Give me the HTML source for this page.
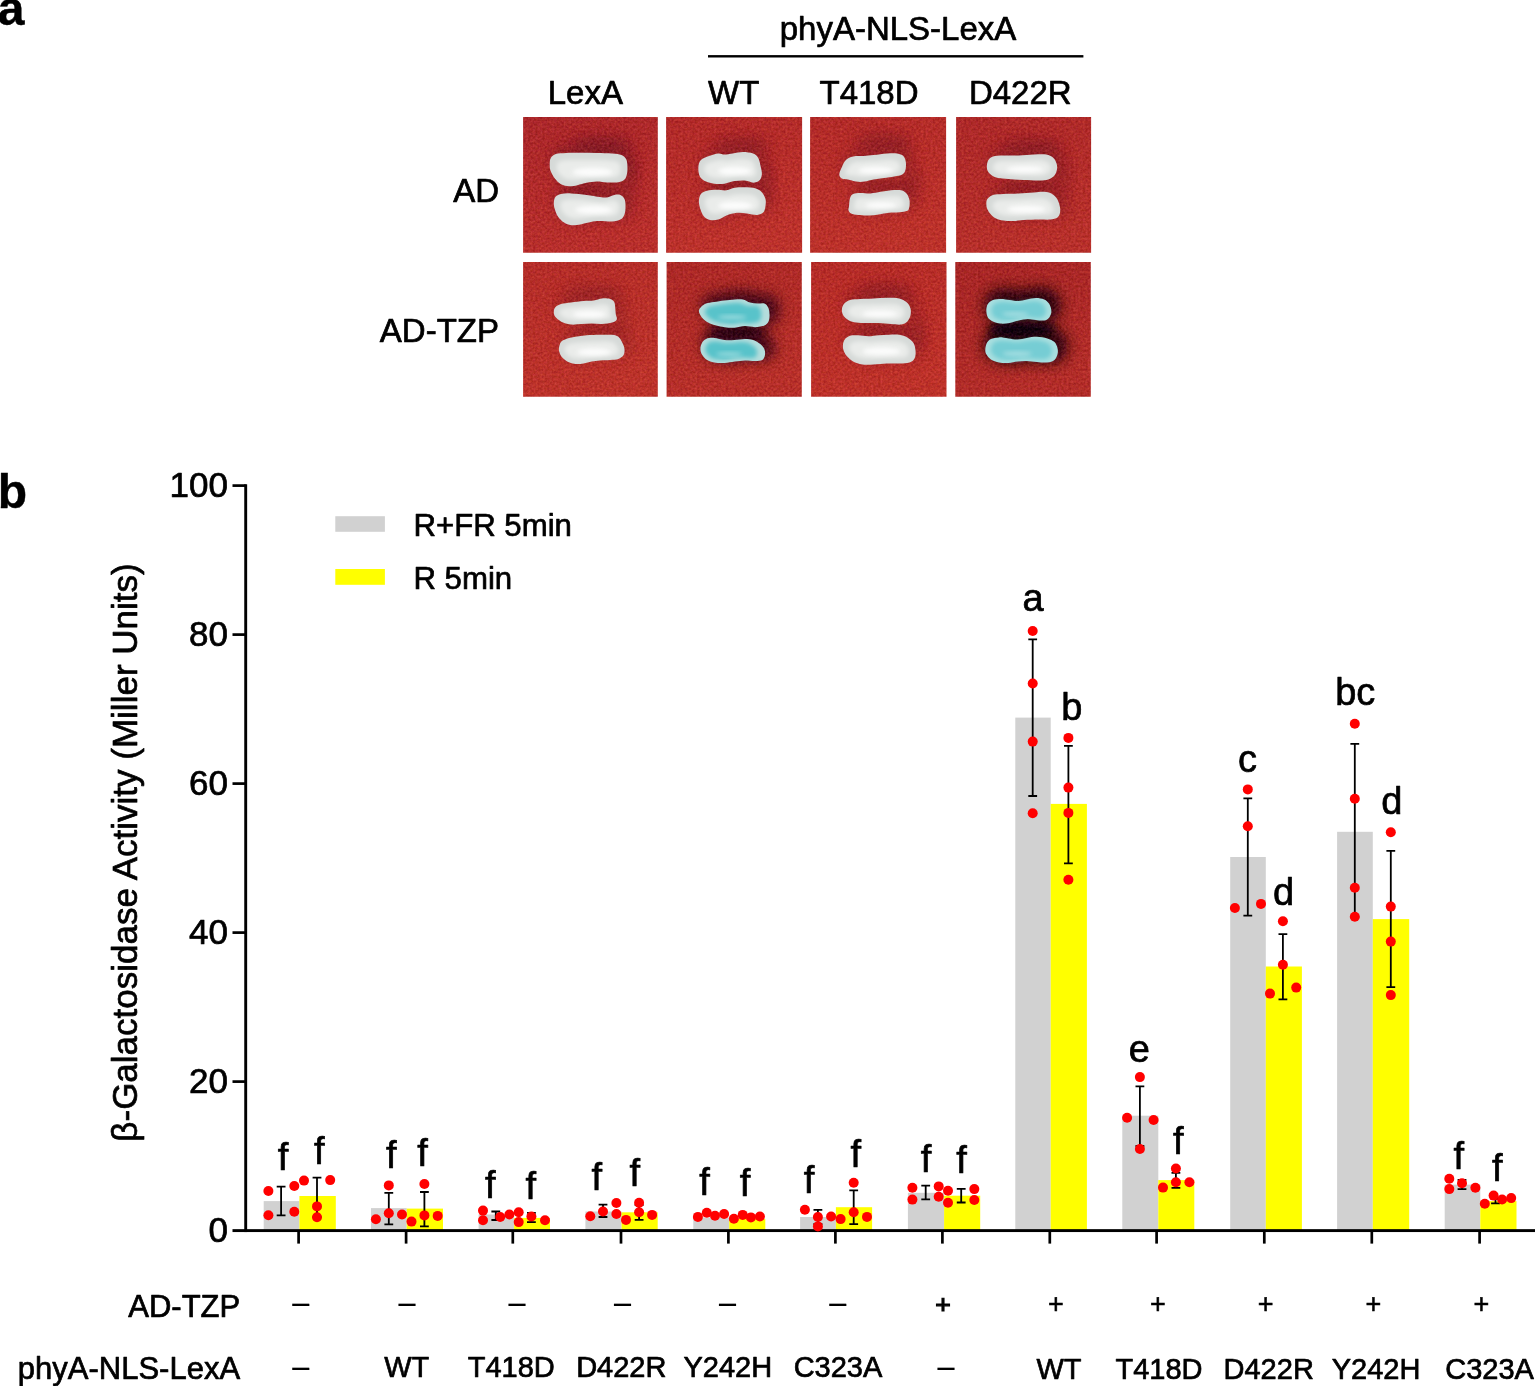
<!DOCTYPE html>
<html lang="en"><head><meta charset="utf-8"><title>Figure</title>
<style>html,body{margin:0;padding:0;background:#fff;}body{width:1535px;height:1386px;overflow:hidden;}svg{display:block;}text{font-family:'Liberation Sans', sans-serif;fill:#000;stroke:#000;stroke-width:0.7px;stroke-linejoin:round;}</style>
</head><body>
<svg width="1535" height="1386" viewBox="0 0 1535 1386">
<rect width="1535" height="1386" fill="#fff"/>
<defs>
<filter id="b1" x="-50%" y="-50%" width="200%" height="200%"><feGaussianBlur stdDeviation="0.75"/></filter>
<filter id="b2" x="-50%" y="-50%" width="200%" height="200%"><feGaussianBlur stdDeviation="2"/></filter>
<filter id="b4" x="-50%" y="-50%" width="200%" height="200%"><feGaussianBlur stdDeviation="4.5"/></filter>
<filter id="b8" x="-50%" y="-50%" width="200%" height="200%"><feGaussianBlur stdDeviation="7"/></filter>
</defs>
<text x="-2.3" y="25.2" font-size="48" font-weight="bold" style="stroke-width:0.4px">a</text>
<text x="898" y="40.1" font-size="33" text-anchor="middle">phyA-NLS-LexA</text>
<rect x="708" y="55.1" width="375.4" height="2.4" fill="#000"/>
<text x="585.3" y="103.6" font-size="33" text-anchor="middle">LexA</text>
<text x="733.7" y="103.6" font-size="33" text-anchor="middle">WT</text>
<text x="869" y="103.6" font-size="33" text-anchor="middle">T418D</text>
<text x="1020.3" y="103.6" font-size="33" text-anchor="middle">D422R</text>
<text x="499" y="201.5" font-size="33" text-anchor="end">AD</text>
<text x="499" y="342.3" font-size="33" text-anchor="end">AD-TZP</text>
<defs><filter id="nz" x="0" y="0" width="100%" height="100%" color-interpolation-filters="sRGB"><feTurbulence type="fractalNoise" baseFrequency="0.42" numOctaves="2" seed="11" result="n"/><feColorMatrix in="n" type="matrix" values="1 0 0 0 0  0.7 0.3 0 0 0  0.6 0 0.4 0 0  0 0 0 0 1" result="g"/><feComposite in="SourceGraphic" in2="g" operator="arithmetic" k1="0" k2="1" k3="0.24" k4="-0.125"/></filter></defs>
<defs><clipPath id="cp0"><rect x="523.1" y="117.1" width="134.7" height="135.7"/></clipPath>
<linearGradient id="tg0" x1="0" y1="0" x2="0.25" y2="1"><stop offset="0" stop-color="#ab282b"/><stop offset="1" stop-color="#b9302d"/></linearGradient></defs>
<g clip-path="url(#cp0)">
<g filter="url(#nz)">
<rect x="522.1" y="116.1" width="136.7" height="137.7" fill="url(#tg0)"/>
<g filter="url(#b8)" opacity="0.36" transform="translate(5,-5)">
<path d="M549.71,165.23C549.71,163.01 549.71,159.93 550.74,158.05C551.76,156.18 553.3,154.81 555.86,153.96C558.42,153.1 561.84,153.14 566.1,152.93C570.37,152.73 576.35,152.73 581.47,152.73C586.59,152.73 591.72,152.81 596.84,152.93C601.96,153.05 608.11,153.1 612.21,153.44C616.31,153.79 619.12,154.04 621.43,154.98C623.73,155.92 625.05,157.37 626.04,159.08C627.03,160.79 627.2,162.84 627.37,165.23C627.54,167.62 627.54,171.03 627.06,173.42C626.59,175.81 625.95,178.12 624.5,179.57C623.05,181.02 621.26,181.65 618.35,182.13C615.45,182.61 610.67,182.52 607.09,182.44C603.5,182.35 600.25,181.55 596.84,181.62C593.42,181.69 589.84,182.25 586.59,182.85C583.35,183.45 580.28,184.64 577.37,185.2C574.47,185.77 571.91,186.4 569.18,186.23C566.45,186.06 563.37,185.46 560.98,184.18C558.59,182.9 556.54,180.68 554.83,178.55C553.13,176.41 551.59,173.59 550.74,171.37C549.88,169.15 549.71,167.45 549.71,165.23Z" fill="#5e0c24" stroke="#5e0c24" stroke-width="6"/>
<path d="M553.81,203.13C553.89,201.09 554.15,198.52 555.35,196.99C556.54,195.45 558.33,194.51 560.98,193.91C563.63,193.32 566.96,193.23 571.23,193.4C575.5,193.57 581.81,194.34 586.59,194.94C591.38,195.54 596.5,196.56 599.91,196.99C603.33,197.41 604.69,197.84 607.09,197.5C609.48,197.16 612.04,195.36 614.26,194.94C616.48,194.51 618.7,194.25 620.4,194.94C622.11,195.62 623.65,197.16 624.5,199.04C625.36,200.91 625.53,203.65 625.53,206.21C625.53,208.77 625.36,212.18 624.5,214.4C623.65,216.62 622.45,218.33 620.4,219.53C618.35,220.72 616.14,221.32 612.21,221.58C608.28,221.83 601.96,220.64 596.84,221.06C591.72,221.49 585.74,223.45 581.47,224.14C577.2,224.82 574.13,225.42 571.23,225.16C568.32,224.91 566.27,224.05 564.05,222.6C561.84,221.15 559.44,218.67 557.91,216.45C556.37,214.23 555.52,211.5 554.83,209.28C554.15,207.06 553.72,205.18 553.81,203.13Z" fill="#5e0c24" stroke="#5e0c24" stroke-width="6"/>
</g>
<ellipse cx="591.72" cy="189.3" rx="26.64" ry="4.1" fill="#7a1420" opacity="0.5" filter="url(#b4)"/>
<ellipse cx="601.96" cy="144.74" rx="30.74" ry="9.22" fill="#5e0c24" opacity="0.4" filter="url(#b8)"/>
<ellipse cx="631.16" cy="175.47" rx="6.15" ry="17.42" fill="#5e0c24" opacity="0.3" filter="url(#b8)"/>
</g>
<path d="M549.71,165.23C549.71,163.01 549.71,159.93 550.74,158.05C551.76,156.18 553.3,154.81 555.86,153.96C558.42,153.1 561.84,153.14 566.1,152.93C570.37,152.73 576.35,152.73 581.47,152.73C586.59,152.73 591.72,152.81 596.84,152.93C601.96,153.05 608.11,153.1 612.21,153.44C616.31,153.79 619.12,154.04 621.43,154.98C623.73,155.92 625.05,157.37 626.04,159.08C627.03,160.79 627.2,162.84 627.37,165.23C627.54,167.62 627.54,171.03 627.06,173.42C626.59,175.81 625.95,178.12 624.5,179.57C623.05,181.02 621.26,181.65 618.35,182.13C615.45,182.61 610.67,182.52 607.09,182.44C603.5,182.35 600.25,181.55 596.84,181.62C593.42,181.69 589.84,182.25 586.59,182.85C583.35,183.45 580.28,184.64 577.37,185.2C574.47,185.77 571.91,186.4 569.18,186.23C566.45,186.06 563.37,185.46 560.98,184.18C558.59,182.9 556.54,180.68 554.83,178.55C553.13,176.41 551.59,173.59 550.74,171.37C549.88,169.15 549.71,167.45 549.71,165.23Z" fill="#d6dad8" filter="url(#b1)"/>
<path d="M556.72,167.47C556.72,166.14 556.72,164.3 557.56,163.17C558.4,162.04 559.66,161.22 561.76,160.71C563.86,160.2 566.66,160.22 570.16,160.1C573.66,159.97 578.56,159.97 582.76,159.97C586.96,159.97 591.16,160.02 595.36,160.1C599.56,160.17 604.6,160.2 607.96,160.4C611.32,160.61 613.64,160.76 615.53,161.32C617.42,161.89 618.49,162.76 619.31,163.78C620.12,164.81 620.26,166.04 620.4,167.47C620.54,168.91 620.54,170.96 620.15,172.39C619.75,173.82 619.24,175.21 618.05,176.08C616.86,176.95 615.39,177.33 613.01,177.61C610.62,177.9 606.7,177.85 603.76,177.8C600.82,177.75 598.16,177.27 595.36,177.31C592.56,177.35 589.62,177.69 586.96,178.04C584.3,178.4 581.78,179.12 579.4,179.46C577.02,179.8 574.92,180.18 572.68,180.07C570.44,179.97 567.92,179.61 565.96,178.84C564,178.08 562.32,176.74 560.92,175.46C559.52,174.18 558.26,172.49 557.56,171.16C556.86,169.83 556.72,168.8 556.72,167.47Z" fill="#eaecea" filter="url(#b2)"/>
<ellipse cx="592.52" cy="172.02" rx="20.19" ry="4.36" fill="#ffffff" opacity="0.85" filter="url(#b2)"/>
<path d="M553.81,203.13C553.89,201.09 554.15,198.52 555.35,196.99C556.54,195.45 558.33,194.51 560.98,193.91C563.63,193.32 566.96,193.23 571.23,193.4C575.5,193.57 581.81,194.34 586.59,194.94C591.38,195.54 596.5,196.56 599.91,196.99C603.33,197.41 604.69,197.84 607.09,197.5C609.48,197.16 612.04,195.36 614.26,194.94C616.48,194.51 618.7,194.25 620.4,194.94C622.11,195.62 623.65,197.16 624.5,199.04C625.36,200.91 625.53,203.65 625.53,206.21C625.53,208.77 625.36,212.18 624.5,214.4C623.65,216.62 622.45,218.33 620.4,219.53C618.35,220.72 616.14,221.32 612.21,221.58C608.28,221.83 601.96,220.64 596.84,221.06C591.72,221.49 585.74,223.45 581.47,224.14C577.2,224.82 574.13,225.42 571.23,225.16C568.32,224.91 566.27,224.05 564.05,222.6C561.84,221.15 559.44,218.67 557.91,216.45C556.37,214.23 555.52,211.5 554.83,209.28C554.15,207.06 553.72,205.18 553.81,203.13Z" fill="#d6dad8" filter="url(#b1)"/>
<path d="M560.35,205.4C560.42,204.17 560.63,202.64 561.61,201.72C562.59,200.79 564.06,200.23 566.23,199.87C568.4,199.51 571.13,199.46 574.63,199.56C578.13,199.67 583.31,200.13 587.24,200.49C591.16,200.85 595.36,201.46 598.16,201.72C600.96,201.97 602.08,202.23 604.04,202.02C606,201.82 608.1,200.74 609.92,200.49C611.74,200.23 613.56,200.08 614.96,200.49C616.36,200.9 617.62,201.82 618.32,202.95C619.02,204.07 619.16,205.71 619.16,207.25C619.16,208.79 619.02,210.83 618.32,212.17C617.62,213.5 616.64,214.52 614.96,215.24C613.28,215.96 611.46,216.32 608.24,216.47C605.02,216.62 599.84,215.91 595.64,216.16C591.44,216.42 586.54,217.6 583.03,218.01C579.53,218.42 577.01,218.77 574.63,218.62C572.25,218.47 570.57,217.95 568.75,217.08C566.93,216.21 564.97,214.73 563.71,213.4C562.45,212.06 561.75,210.42 561.19,209.09C560.63,207.76 560.28,206.63 560.35,205.4Z" fill="#eaecea" filter="url(#b2)"/>
<ellipse cx="593.74" cy="209.85" rx="18.65" ry="4.13" fill="#ffffff" opacity="0.85" filter="url(#b2)"/>
</g>
<defs><clipPath id="cp1"><rect x="666.1" y="117.1" width="136" height="135.7"/></clipPath>
<linearGradient id="tg1" x1="0" y1="0" x2="0.25" y2="1"><stop offset="0" stop-color="#b22b2a"/><stop offset="1" stop-color="#bd332d"/></linearGradient></defs>
<g clip-path="url(#cp1)">
<g filter="url(#nz)">
<rect x="665.1" y="116.1" width="138" height="137.7" fill="url(#tg1)"/>
<g filter="url(#b8)" opacity="0.3" transform="translate(5,-4)">
<path d="M698.35,167.28C698.52,164.54 699.11,161.98 700.91,160.1C702.7,158.23 706.2,157.12 709.1,156.01C712.01,154.9 715.76,153.7 718.32,153.44C720.89,153.19 722.08,154.47 724.47,154.47C726.86,154.47 729.59,153.87 732.67,153.44C735.74,153.02 739.5,151.91 742.91,151.91C746.33,151.91 750.6,152.42 753.16,153.44C755.72,154.47 757,155.75 758.28,158.05C759.56,160.36 760.25,164.54 760.84,167.28C761.44,170.01 762.12,172.23 761.87,174.45C761.61,176.67 760.76,179.23 759.31,180.59C757.85,181.96 755.55,182.64 753.16,182.64C750.77,182.64 748.04,180.85 744.96,180.59C741.89,180.34 738.13,180.59 734.72,181.11C731.3,181.62 727.89,183.24 724.47,183.67C721.06,184.09 717.3,184.01 714.23,183.67C711.15,183.33 708.42,182.81 706.03,181.62C703.64,180.42 701.16,178.89 699.88,176.5C698.6,174.11 698.18,170.01 698.35,167.28Z" fill="#640e24" stroke="#640e24" stroke-width="6"/>
<path d="M698.86,201.09C698.94,198.52 699.54,195.62 700.91,193.91C702.27,192.21 704.49,191.52 707.05,190.84C709.62,190.16 713.03,189.9 716.28,189.82C719.52,189.73 723.45,190.67 726.52,190.33C729.59,189.99 731.64,188.28 734.72,187.77C737.79,187.25 741.55,187.17 744.96,187.25C748.38,187.34 752.48,187.51 755.21,188.28C757.94,189.05 759.65,190.07 761.35,191.86C763.06,193.66 764.77,196.65 765.45,199.04C766.14,201.43 765.79,203.99 765.45,206.21C765.11,208.43 764.77,210.9 763.4,212.35C762.04,213.81 759.99,214.75 757.26,214.92C754.52,215.09 750.43,213.72 747.01,213.38C743.6,213.04 740.18,212.53 736.77,212.87C733.35,213.21 729.59,214.32 726.52,215.43C723.45,216.54 721.06,218.76 718.32,219.53C715.59,220.3 712.52,220.55 710.13,220.04C707.74,219.53 705.6,218.25 703.98,216.45C702.36,214.66 701.25,211.84 700.4,209.28C699.54,206.72 698.77,203.65 698.86,201.09Z" fill="#640e24" stroke="#640e24" stroke-width="6"/>
</g>
<ellipse cx="734.72" cy="185.72" rx="24.59" ry="3.59" fill="#7a1420" opacity="0.45" filter="url(#b4)"/>
<ellipse cx="741.89" cy="144.74" rx="28.69" ry="8.71" fill="#640e24" opacity="0.32" filter="url(#b8)"/>
<ellipse cx="766.48" cy="179.57" rx="6.15" ry="17.42" fill="#640e24" opacity="0.3" filter="url(#b8)"/>
</g>
<path d="M698.35,167.28C698.52,164.54 699.11,161.98 700.91,160.1C702.7,158.23 706.2,157.12 709.1,156.01C712.01,154.9 715.76,153.7 718.32,153.44C720.89,153.19 722.08,154.47 724.47,154.47C726.86,154.47 729.59,153.87 732.67,153.44C735.74,153.02 739.5,151.91 742.91,151.91C746.33,151.91 750.6,152.42 753.16,153.44C755.72,154.47 757,155.75 758.28,158.05C759.56,160.36 760.25,164.54 760.84,167.28C761.44,170.01 762.12,172.23 761.87,174.45C761.61,176.67 760.76,179.23 759.31,180.59C757.85,181.96 755.55,182.64 753.16,182.64C750.77,182.64 748.04,180.85 744.96,180.59C741.89,180.34 738.13,180.59 734.72,181.11C731.3,181.62 727.89,183.24 724.47,183.67C721.06,184.09 717.3,184.01 714.23,183.67C711.15,183.33 708.42,182.81 706.03,181.62C703.64,180.42 701.16,178.89 699.88,176.5C698.6,174.11 698.18,170.01 698.35,167.28Z" fill="#d6dad8" filter="url(#b1)"/>
<path d="M704.31,168.34C704.45,166.7 704.94,165.16 706.41,164.04C707.88,162.91 710.75,162.24 713.13,161.58C715.51,160.91 718.59,160.19 720.69,160.04C722.79,159.89 723.77,160.66 725.73,160.66C727.69,160.66 729.93,160.3 732.45,160.04C734.97,159.78 738.05,159.12 740.85,159.12C743.65,159.12 747.15,159.43 749.25,160.04C751.35,160.66 752.4,161.42 753.45,162.81C754.5,164.19 755.06,166.7 755.55,168.34C756.04,169.98 756.6,171.31 756.39,172.64C756.18,173.97 755.48,175.51 754.29,176.33C753.1,177.15 751.21,177.56 749.25,177.56C747.29,177.56 745.05,176.48 742.53,176.33C740.01,176.18 736.93,176.33 734.13,176.64C731.33,176.95 728.53,177.92 725.73,178.17C722.93,178.43 719.85,178.38 717.33,178.17C714.81,177.97 712.57,177.66 710.61,176.95C708.65,176.23 706.62,175.31 705.57,173.87C704.52,172.44 704.17,169.98 704.31,168.34Z" fill="#eaecea" filter="url(#b2)"/>
<ellipse cx="734.63" cy="170.98" rx="16.52" ry="4.13" fill="#ffffff" opacity="0.85" filter="url(#b2)"/>
<path d="M698.86,201.09C698.94,198.52 699.54,195.62 700.91,193.91C702.27,192.21 704.49,191.52 707.05,190.84C709.62,190.16 713.03,189.9 716.28,189.82C719.52,189.73 723.45,190.67 726.52,190.33C729.59,189.99 731.64,188.28 734.72,187.77C737.79,187.25 741.55,187.17 744.96,187.25C748.38,187.34 752.48,187.51 755.21,188.28C757.94,189.05 759.65,190.07 761.35,191.86C763.06,193.66 764.77,196.65 765.45,199.04C766.14,201.43 765.79,203.99 765.45,206.21C765.11,208.43 764.77,210.9 763.4,212.35C762.04,213.81 759.99,214.75 757.26,214.92C754.52,215.09 750.43,213.72 747.01,213.38C743.6,213.04 740.18,212.53 736.77,212.87C733.35,213.21 729.59,214.32 726.52,215.43C723.45,216.54 721.06,218.76 718.32,219.53C715.59,220.3 712.52,220.55 710.13,220.04C707.74,219.53 705.6,218.25 703.98,216.45C702.36,214.66 701.25,211.84 700.4,209.28C699.54,206.72 698.77,203.65 698.86,201.09Z" fill="#d6dad8" filter="url(#b1)"/>
<path d="M704.83,202.46C704.9,200.93 705.39,199.19 706.51,198.16C707.63,197.14 709.45,196.73 711.55,196.32C713.65,195.91 716.45,195.75 719.11,195.7C721.77,195.65 724.99,196.21 727.51,196.01C730.03,195.8 731.71,194.78 734.23,194.47C736.75,194.17 739.83,194.11 742.63,194.17C745.43,194.22 748.8,194.32 751.04,194.78C753.28,195.24 754.68,195.86 756.08,196.93C757.48,198.01 758.88,199.8 759.44,201.23C760,202.67 759.72,204.21 759.44,205.54C759.16,206.87 758.88,208.35 757.76,209.23C756.64,210.1 754.96,210.66 752.72,210.76C750.48,210.86 747.11,210.05 744.31,209.84C741.51,209.64 738.71,209.33 735.91,209.53C733.11,209.74 730.03,210.4 727.51,211.07C724.99,211.74 723.03,213.07 720.79,213.53C718.55,213.99 716.03,214.14 714.07,213.84C712.11,213.53 710.36,212.76 709.03,211.68C707.7,210.61 706.79,208.92 706.09,207.38C705.39,205.84 704.76,204 704.83,202.46Z" fill="#eaecea" filter="url(#b2)"/>
<ellipse cx="735.36" cy="205.65" rx="17.31" ry="4.26" fill="#ffffff" opacity="0.85" filter="url(#b2)"/>
</g>
<defs><clipPath id="cp2"><rect x="810.1" y="117.1" width="136" height="135.7"/></clipPath>
<linearGradient id="tg2" x1="0" y1="0" x2="0.25" y2="1"><stop offset="0" stop-color="#b32c2a"/><stop offset="1" stop-color="#bd332c"/></linearGradient></defs>
<g clip-path="url(#cp2)">
<g filter="url(#nz)">
<rect x="809.1" y="116.1" width="138" height="137.7" fill="url(#tg2)"/>
<g filter="url(#b8)" opacity="0.3" transform="translate(5,-5)">
<path d="M839.27,174.45C839.27,172.57 840.72,169.67 841.83,167.28C842.94,164.89 844.05,161.9 845.93,160.1C847.81,158.31 850.2,157.2 853.1,156.52C856.01,155.84 859.93,156.26 863.35,156.01C866.76,155.75 869.67,155.41 873.59,154.98C877.52,154.55 882.99,153.7 886.91,153.44C890.84,153.19 894.43,153.02 897.16,153.44C899.89,153.87 901.85,154.55 903.31,156.01C904.76,157.46 905.53,159.76 905.87,162.15C906.21,164.54 905.95,168.3 905.35,170.35C904.76,172.4 904.16,173.42 902.28,174.45C900.4,175.47 897.16,175.9 894.09,176.5C891.01,177.09 887.25,177.52 883.84,178.03C880.42,178.55 876.84,178.97 873.59,179.57C870.35,180.17 867.28,181.28 864.37,181.62C861.47,181.96 858.91,181.96 856.18,181.62C853.45,181.28 850.37,180.08 847.98,179.57C845.59,179.06 843.29,179.4 841.83,178.55C840.38,177.69 839.27,176.33 839.27,174.45Z" fill="#640e24" stroke="#640e24" stroke-width="6"/>
<path d="M849.01,206.21C849.26,204.16 849.35,200.06 850.03,198.01C850.71,195.96 851.4,194.77 853.1,193.91C854.81,193.06 857.37,192.97 860.28,192.89C863.18,192.8 867.11,193.57 870.52,193.4C873.94,193.23 877.35,192.38 880.77,191.86C884.18,191.35 887.6,190.58 891.01,190.33C894.43,190.07 898.61,189.73 901.26,190.33C903.9,190.93 905.53,192.29 906.89,193.91C908.26,195.54 909.03,198.01 909.45,200.06C909.88,202.11 909.79,204.41 909.45,206.21C909.11,208 909.11,209.79 907.4,210.82C905.7,211.84 902.28,212.01 899.21,212.35C896.13,212.7 892.38,212.53 888.96,212.87C885.55,213.21 882.13,213.98 878.72,214.4C875.3,214.83 871.89,215.34 868.47,215.43C865.06,215.51 861.13,215.26 858.23,214.92C855.32,214.57 852.68,214.15 851.05,213.38C849.43,212.61 848.84,211.5 848.49,210.31C848.15,209.11 848.75,208.26 849.01,206.21Z" fill="#640e24" stroke="#640e24" stroke-width="6"/>
</g>
<ellipse cx="884.86" cy="185.72" rx="24.59" ry="4.1" fill="#7a1420" opacity="0.45" filter="url(#b4)"/>
<ellipse cx="883.84" cy="142.17" rx="28.69" ry="9.22" fill="#640e24" opacity="0.36" filter="url(#b8)"/>
<ellipse cx="913.55" cy="180.59" rx="7.17" ry="13.32" fill="#640e24" opacity="0.34" filter="url(#b8)"/>
</g>
<path d="M839.27,174.45C839.27,172.57 840.72,169.67 841.83,167.28C842.94,164.89 844.05,161.9 845.93,160.1C847.81,158.31 850.2,157.2 853.1,156.52C856.01,155.84 859.93,156.26 863.35,156.01C866.76,155.75 869.67,155.41 873.59,154.98C877.52,154.55 882.99,153.7 886.91,153.44C890.84,153.19 894.43,153.02 897.16,153.44C899.89,153.87 901.85,154.55 903.31,156.01C904.76,157.46 905.53,159.76 905.87,162.15C906.21,164.54 905.95,168.3 905.35,170.35C904.76,172.4 904.16,173.42 902.28,174.45C900.4,175.47 897.16,175.9 894.09,176.5C891.01,177.09 887.25,177.52 883.84,178.03C880.42,178.55 876.84,178.97 873.59,179.57C870.35,180.17 867.28,181.28 864.37,181.62C861.47,181.96 858.91,181.96 856.18,181.62C853.45,181.28 850.37,180.08 847.98,179.57C845.59,179.06 843.29,179.4 841.83,178.55C840.38,177.69 839.27,176.33 839.27,174.45Z" fill="#d6dad8" filter="url(#b1)"/>
<path d="M845.28,172.52C845.28,171.4 846.47,169.66 847.38,168.22C848.29,166.79 849.2,164.99 850.74,163.92C852.28,162.84 854.24,162.18 856.62,161.77C859,161.36 862.22,161.61 865.02,161.46C867.82,161.31 870.2,161.1 873.42,160.84C876.64,160.59 881.12,160.08 884.34,159.92C887.56,159.77 890.5,159.67 892.74,159.92C894.98,160.18 896.59,160.59 897.78,161.46C898.97,162.33 899.6,163.71 899.88,165.15C900.16,166.58 899.95,168.84 899.46,170.06C898.97,171.29 898.48,171.91 896.94,172.52C895.4,173.14 892.74,173.39 890.22,173.75C887.7,174.11 884.62,174.37 881.82,174.68C879.02,174.98 876.08,175.24 873.42,175.6C870.76,175.96 868.24,176.62 865.86,176.83C863.48,177.03 861.38,177.03 859.14,176.83C856.9,176.62 854.38,175.9 852.42,175.6C850.46,175.29 848.57,175.49 847.38,174.98C846.19,174.47 845.28,173.65 845.28,172.52Z" fill="#eaecea" filter="url(#b2)"/>
<ellipse cx="875.95" cy="170.39" rx="17.31" ry="3.66" fill="#ffffff" opacity="0.85" filter="url(#b2)"/>
<path d="M849.01,206.21C849.26,204.16 849.35,200.06 850.03,198.01C850.71,195.96 851.4,194.77 853.1,193.91C854.81,193.06 857.37,192.97 860.28,192.89C863.18,192.8 867.11,193.57 870.52,193.4C873.94,193.23 877.35,192.38 880.77,191.86C884.18,191.35 887.6,190.58 891.01,190.33C894.43,190.07 898.61,189.73 901.26,190.33C903.9,190.93 905.53,192.29 906.89,193.91C908.26,195.54 909.03,198.01 909.45,200.06C909.88,202.11 909.79,204.41 909.45,206.21C909.11,208 909.11,209.79 907.4,210.82C905.7,211.84 902.28,212.01 899.21,212.35C896.13,212.7 892.38,212.53 888.96,212.87C885.55,213.21 882.13,213.98 878.72,214.4C875.3,214.83 871.89,215.34 868.47,215.43C865.06,215.51 861.13,215.26 858.23,214.92C855.32,214.57 852.68,214.15 851.05,213.38C849.43,212.61 848.84,211.5 848.49,210.31C848.15,209.11 848.75,208.26 849.01,206.21Z" fill="#d6dad8" filter="url(#b1)"/>
<path d="M854.23,205.62C854.44,204.39 854.51,201.93 855.07,200.7C855.63,199.47 856.19,198.76 857.59,198.24C858.99,197.73 861.09,197.68 863.47,197.63C865.85,197.58 869.07,198.04 871.87,197.94C874.67,197.84 877.47,197.32 880.27,197.02C883.07,196.71 885.87,196.25 888.67,196.09C891.47,195.94 894.9,195.73 897.07,196.09C899.24,196.45 900.57,197.27 901.69,198.24C902.81,199.22 903.44,200.7 903.79,201.93C904.14,203.16 904.07,204.55 903.79,205.62C903.51,206.7 903.51,207.77 902.11,208.39C900.71,209 897.91,209.1 895.39,209.31C892.87,209.51 889.79,209.41 886.99,209.62C884.19,209.82 881.39,210.28 878.59,210.54C875.79,210.8 872.99,211.1 870.19,211.15C867.39,211.21 864.17,211.05 861.79,210.85C859.41,210.64 857.24,210.39 855.91,209.92C854.58,209.46 854.09,208.8 853.81,208.08C853.53,207.36 854.02,206.85 854.23,205.62Z" fill="#eaecea" filter="url(#b2)"/>
<ellipse cx="881.06" cy="205.25" rx="15.85" ry="3.26" fill="#ffffff" opacity="0.85" filter="url(#b2)"/>
</g>
<defs><clipPath id="cp3"><rect x="956.1" y="117.1" width="135" height="135.7"/></clipPath>
<linearGradient id="tg3" x1="0" y1="0" x2="0.25" y2="1"><stop offset="0" stop-color="#ae2a2a"/><stop offset="1" stop-color="#b8312c"/></linearGradient></defs>
<g clip-path="url(#cp3)">
<g filter="url(#nz)">
<rect x="955.1" y="116.1" width="137" height="137.7" fill="url(#tg3)"/>
<g filter="url(#b8)" opacity="0.3" transform="translate(5,-5)">
<path d="M986.83,166.25C986.92,164.37 987.35,161.73 988.37,160.1C989.4,158.48 990.51,157.29 992.98,156.52C995.46,155.75 998.96,155.66 1003.23,155.49C1007.5,155.32 1013.47,155.66 1018.59,155.49C1023.72,155.32 1029.35,154.64 1033.96,154.47C1038.57,154.3 1043.1,153.96 1046.26,154.47C1049.42,154.98 1051.21,156.09 1052.92,157.54C1054.62,158.99 1055.82,161.21 1056.5,163.18C1057.19,165.14 1057.36,167.28 1057.01,169.32C1056.67,171.37 1055.9,173.76 1054.45,175.47C1053,177.18 1050.87,178.72 1048.31,179.57C1045.74,180.42 1043.18,180.51 1039.09,180.59C1034.99,180.68 1028.84,180.34 1023.72,180.08C1018.59,179.83 1012.62,179.4 1008.35,179.06C1004.08,178.72 1000.84,178.63 998.1,178.03C995.37,177.44 993.66,176.58 991.96,175.47C990.25,174.36 988.71,172.91 987.86,171.37C987,169.84 986.75,168.13 986.83,166.25Z" fill="#640e24" stroke="#640e24" stroke-width="6"/>
<path d="M986.32,204.16C986.32,202.45 986.24,200.57 987.35,199.04C988.46,197.5 990.33,195.79 992.98,194.94C995.63,194.08 998.96,194.17 1003.23,193.91C1007.5,193.66 1013.47,193.66 1018.59,193.4C1023.72,193.15 1029.69,192.63 1033.96,192.38C1038.23,192.12 1041.3,191.69 1044.21,191.86C1047.11,192.04 1049.33,192.38 1051.38,193.4C1053.43,194.43 1055.14,196.05 1056.5,198.01C1057.87,199.98 1058.98,202.79 1059.58,205.18C1060.17,207.57 1060.43,210.31 1060.09,212.35C1059.75,214.4 1059.15,216.28 1057.53,217.48C1055.9,218.67 1053.43,219.19 1050.35,219.53C1047.28,219.87 1043.52,219.44 1039.09,219.53C1034.65,219.61 1027.99,219.78 1023.72,220.04C1019.45,220.3 1016.89,220.98 1013.47,221.06C1010.06,221.15 1006.13,220.98 1003.23,220.55C1000.32,220.12 998.1,219.53 996.05,218.5C994.01,217.48 992.38,215.94 990.93,214.4C989.48,212.87 988.11,210.99 987.35,209.28C986.58,207.57 986.32,205.87 986.32,204.16Z" fill="#640e24" stroke="#640e24" stroke-width="6"/>
</g>
<ellipse cx="1027.82" cy="186.74" rx="28.69" ry="4.61" fill="#7a1420" opacity="0.5" filter="url(#b4)"/>
<ellipse cx="1031.91" cy="146.78" rx="30.74" ry="8.71" fill="#640e24" opacity="0.34" filter="url(#b8)"/>
<ellipse cx="1064.19" cy="177.52" rx="6.15" ry="17.42" fill="#640e24" opacity="0.28" filter="url(#b8)"/>
</g>
<path d="M986.83,166.25C986.92,164.37 987.35,161.73 988.37,160.1C989.4,158.48 990.51,157.29 992.98,156.52C995.46,155.75 998.96,155.66 1003.23,155.49C1007.5,155.32 1013.47,155.66 1018.59,155.49C1023.72,155.32 1029.35,154.64 1033.96,154.47C1038.57,154.3 1043.1,153.96 1046.26,154.47C1049.42,154.98 1051.21,156.09 1052.92,157.54C1054.62,158.99 1055.82,161.21 1056.5,163.18C1057.19,165.14 1057.36,167.28 1057.01,169.32C1056.67,171.37 1055.9,173.76 1054.45,175.47C1053,177.18 1050.87,178.72 1048.31,179.57C1045.74,180.42 1043.18,180.51 1039.09,180.59C1034.99,180.68 1028.84,180.34 1023.72,180.08C1018.59,179.83 1012.62,179.4 1008.35,179.06C1004.08,178.72 1000.84,178.63 998.1,178.03C995.37,177.44 993.66,176.58 991.96,175.47C990.25,174.36 988.71,172.91 987.86,171.37C987,169.84 986.75,168.13 986.83,166.25Z" fill="#d6dad8" filter="url(#b1)"/>
<path d="M993.09,167.3C993.16,166.17 993.51,164.58 994.35,163.61C995.19,162.63 996.1,161.92 998.13,161.46C1000.16,160.99 1003.03,160.94 1006.53,160.84C1010.03,160.74 1014.93,160.94 1019.13,160.84C1023.33,160.74 1027.95,160.33 1031.73,160.23C1035.51,160.12 1039.23,159.92 1041.82,160.23C1044.41,160.53 1045.88,161.2 1047.28,162.07C1048.68,162.94 1049.66,164.27 1050.22,165.45C1050.78,166.63 1050.92,167.91 1050.64,169.14C1050.36,170.37 1049.73,171.8 1048.54,172.83C1047.35,173.85 1045.6,174.77 1043.5,175.29C1041.4,175.8 1039.3,175.85 1035.93,175.9C1032.57,175.95 1027.53,175.75 1023.33,175.59C1019.13,175.44 1014.23,175.18 1010.73,174.98C1007.23,174.77 1004.57,174.72 1002.33,174.36C1000.09,174.01 998.69,173.49 997.29,172.83C995.89,172.16 994.63,171.29 993.93,170.37C993.23,169.45 993.02,168.42 993.09,167.3Z" fill="#eaecea" filter="url(#b2)"/>
<ellipse cx="1025.09" cy="169.45" rx="18.25" ry="3.4" fill="#ffffff" opacity="0.85" filter="url(#b2)"/>
<path d="M986.32,204.16C986.32,202.45 986.24,200.57 987.35,199.04C988.46,197.5 990.33,195.79 992.98,194.94C995.63,194.08 998.96,194.17 1003.23,193.91C1007.5,193.66 1013.47,193.66 1018.59,193.4C1023.72,193.15 1029.69,192.63 1033.96,192.38C1038.23,192.12 1041.3,191.69 1044.21,191.86C1047.11,192.04 1049.33,192.38 1051.38,193.4C1053.43,194.43 1055.14,196.05 1056.5,198.01C1057.87,199.98 1058.98,202.79 1059.58,205.18C1060.17,207.57 1060.43,210.31 1060.09,212.35C1059.75,214.4 1059.15,216.28 1057.53,217.48C1055.9,218.67 1053.43,219.19 1050.35,219.53C1047.28,219.87 1043.52,219.44 1039.09,219.53C1034.65,219.61 1027.99,219.78 1023.72,220.04C1019.45,220.3 1016.89,220.98 1013.47,221.06C1010.06,221.15 1006.13,220.98 1003.23,220.55C1000.32,220.12 998.1,219.53 996.05,218.5C994.01,217.48 992.38,215.94 990.93,214.4C989.48,212.87 988.11,210.99 987.35,209.28C986.58,207.57 986.32,205.87 986.32,204.16Z" fill="#d6dad8" filter="url(#b1)"/>
<path d="M992.89,205.88C992.89,204.85 992.82,203.72 993.73,202.8C994.64,201.88 996.18,200.86 998.35,200.34C1000.52,199.83 1003.25,199.88 1006.75,199.73C1010.25,199.57 1015.15,199.57 1019.35,199.42C1023.55,199.27 1028.45,198.96 1031.95,198.81C1035.45,198.65 1037.97,198.4 1040.35,198.5C1042.73,198.6 1044.55,198.81 1046.23,199.42C1047.91,200.04 1049.31,201.01 1050.43,202.19C1051.56,203.37 1052.47,205.06 1052.96,206.49C1053.45,207.92 1053.66,209.56 1053.38,210.79C1053.1,212.02 1052.61,213.15 1051.28,213.87C1049.94,214.58 1047.91,214.89 1045.39,215.1C1042.87,215.3 1039.79,215.05 1036.15,215.1C1032.51,215.15 1027.05,215.25 1023.55,215.4C1020.05,215.56 1017.95,215.97 1015.15,216.02C1012.35,216.07 1009.13,215.97 1006.75,215.71C1004.37,215.45 1002.55,215.1 1000.87,214.48C999.19,213.87 997.86,212.94 996.67,212.02C995.48,211.1 994.36,209.97 993.73,208.95C993.1,207.92 992.89,206.9 992.89,205.88Z" fill="#eaecea" filter="url(#b2)"/>
<ellipse cx="1026.48" cy="209.29" rx="19.18" ry="3.8" fill="#ffffff" opacity="0.85" filter="url(#b2)"/>
</g>
<defs><clipPath id="cp4"><rect x="523.1" y="262.1" width="134.7" height="134.7"/></clipPath>
<linearGradient id="tg4" x1="0" y1="0" x2="0.25" y2="1"><stop offset="0" stop-color="#b52e2a"/><stop offset="1" stop-color="#bd342c"/></linearGradient></defs>
<g clip-path="url(#cp4)">
<g filter="url(#nz)">
<rect x="522.1" y="261.1" width="136.7" height="136.7" fill="url(#tg4)"/>
<g filter="url(#b8)" opacity="0.26" transform="translate(5,-5)">
<path d="M553.81,311.25C553.98,309.89 554.15,308.35 555.35,307.15C556.54,305.96 558.33,304.85 560.98,304.08C563.63,303.31 567.47,303.05 571.23,302.54C574.98,302.03 579.76,301.35 583.52,301.01C587.28,300.66 590.69,300.92 593.77,300.49C596.84,300.07 599.23,298.7 601.96,298.44C604.69,298.19 608.11,298.36 610.16,298.96C612.21,299.55 613.4,300.49 614.26,302.03C615.11,303.57 615.03,306.13 615.28,308.18C615.54,310.23 615.54,312.45 615.79,314.32C616.05,316.2 617.42,318.08 616.82,319.45C616.22,320.81 614.68,321.75 612.21,322.52C609.73,323.29 605.38,323.89 601.96,324.06C598.55,324.23 595.13,323.55 591.72,323.55C588.3,323.55 584.89,323.89 581.47,324.06C578.06,324.23 574.3,324.83 571.23,324.57C568.15,324.31 565.42,323.55 563.03,322.52C560.64,321.5 558.33,319.62 556.88,318.42C555.43,317.23 554.83,316.54 554.32,315.35C553.81,314.15 553.64,312.62 553.81,311.25Z" fill="#6c1224" stroke="#6c1224" stroke-width="6"/>
<path d="M558.93,348.13C559.19,346.43 559.79,343.52 560.98,341.99C562.18,340.45 563.71,339.77 566.1,338.91C568.49,338.06 571.91,337.46 575.32,336.86C578.74,336.27 582.5,335.67 586.59,335.33C590.69,334.99 595.64,334.9 599.91,334.82C604.18,334.73 609.13,334.47 612.21,334.82C615.28,335.16 616.65,335.5 618.35,336.86C620.06,338.23 621.43,340.96 622.45,343.01C623.48,345.06 624.33,347.11 624.5,349.16C624.67,351.21 624.5,353.68 623.48,355.31C622.45,356.93 620.57,358.12 618.35,358.89C616.14,359.66 613.23,359.66 610.16,359.92C607.09,360.17 602.99,360.17 599.91,360.43C596.84,360.68 594.45,360.94 591.72,361.45C588.99,361.97 586.25,363.08 583.52,363.5C580.79,363.93 577.89,364.27 575.32,364.01C572.76,363.76 570.37,363.08 568.15,361.97C565.93,360.86 563.46,358.98 562.01,357.35C560.55,355.73 559.96,353.77 559.44,352.23C558.93,350.7 558.68,349.84 558.93,348.13Z" fill="#6c1224" stroke="#6c1224" stroke-width="6"/>
</g>
<ellipse cx="595.82" cy="329.69" rx="24.59" ry="3.59" fill="#7a1420" opacity="0.4" filter="url(#b4)"/>
<ellipse cx="591.72" cy="292.81" rx="28.69" ry="8.71" fill="#6c1224" opacity="0.26" filter="url(#b8)"/>
<ellipse cx="623.48" cy="322.52" rx="5.12" ry="13.32" fill="#6c1224" opacity="0.2" filter="url(#b8)"/>
</g>
<path d="M553.81,311.25C553.98,309.89 554.15,308.35 555.35,307.15C556.54,305.96 558.33,304.85 560.98,304.08C563.63,303.31 567.47,303.05 571.23,302.54C574.98,302.03 579.76,301.35 583.52,301.01C587.28,300.66 590.69,300.92 593.77,300.49C596.84,300.07 599.23,298.7 601.96,298.44C604.69,298.19 608.11,298.36 610.16,298.96C612.21,299.55 613.4,300.49 614.26,302.03C615.11,303.57 615.03,306.13 615.28,308.18C615.54,310.23 615.54,312.45 615.79,314.32C616.05,316.2 617.42,318.08 616.82,319.45C616.22,320.81 614.68,321.75 612.21,322.52C609.73,323.29 605.38,323.89 601.96,324.06C598.55,324.23 595.13,323.55 591.72,323.55C588.3,323.55 584.89,323.89 581.47,324.06C578.06,324.23 574.3,324.83 571.23,324.57C568.15,324.31 565.42,323.55 563.03,322.52C560.64,321.5 558.33,319.62 556.88,318.42C555.43,317.23 554.83,316.54 554.32,315.35C553.81,314.15 553.64,312.62 553.81,311.25Z" fill="#d6dad8" filter="url(#b1)"/>
<path d="M559.66,312.21C559.8,311.39 559.94,310.47 560.92,309.75C561.9,309.03 563.37,308.37 565.54,307.91C567.71,307.45 570.86,307.29 573.94,306.98C577.02,306.68 580.94,306.27 584.02,306.06C587.1,305.86 589.9,306.01 592.42,305.76C594.94,305.5 596.9,304.68 599.14,304.53C601.38,304.37 604.18,304.47 605.86,304.83C607.54,305.19 608.52,305.76 609.22,306.68C609.92,307.6 609.85,309.14 610.06,310.37C610.27,311.59 610.27,312.93 610.48,314.05C610.69,315.18 611.81,316.31 611.32,317.13C610.83,317.95 609.57,318.51 607.54,318.97C605.51,319.43 601.94,319.79 599.14,319.89C596.34,320 593.54,319.59 590.74,319.59C587.94,319.59 585.14,319.79 582.34,319.89C579.54,320 576.46,320.35 573.94,320.2C571.42,320.05 569.18,319.59 567.22,318.97C565.26,318.36 563.37,317.23 562.18,316.51C560.99,315.8 560.5,315.39 560.08,314.67C559.66,313.95 559.52,313.03 559.66,312.21Z" fill="#eaecea" filter="url(#b2)"/>
<ellipse cx="589.44" cy="314.24" rx="16.38" ry="3.4" fill="#ffffff" opacity="0.85" filter="url(#b2)"/>
<path d="M558.93,348.13C559.19,346.43 559.79,343.52 560.98,341.99C562.18,340.45 563.71,339.77 566.1,338.91C568.49,338.06 571.91,337.46 575.32,336.86C578.74,336.27 582.5,335.67 586.59,335.33C590.69,334.99 595.64,334.9 599.91,334.82C604.18,334.73 609.13,334.47 612.21,334.82C615.28,335.16 616.65,335.5 618.35,336.86C620.06,338.23 621.43,340.96 622.45,343.01C623.48,345.06 624.33,347.11 624.5,349.16C624.67,351.21 624.5,353.68 623.48,355.31C622.45,356.93 620.57,358.12 618.35,358.89C616.14,359.66 613.23,359.66 610.16,359.92C607.09,360.17 602.99,360.17 599.91,360.43C596.84,360.68 594.45,360.94 591.72,361.45C588.99,361.97 586.25,363.08 583.52,363.5C580.79,363.93 577.89,364.27 575.32,364.01C572.76,363.76 570.37,363.08 568.15,361.97C565.93,360.86 563.46,358.98 562.01,357.35C560.55,355.73 559.96,353.77 559.44,352.23C558.93,350.7 558.68,349.84 558.93,348.13Z" fill="#d6dad8" filter="url(#b1)"/>
<path d="M564.68,349.38C564.89,348.36 565.38,346.61 566.36,345.69C567.34,344.77 568.6,344.36 570.56,343.85C572.52,343.33 575.32,342.98 578.12,342.62C580.92,342.26 584,341.9 587.36,341.7C590.72,341.49 594.79,341.44 598.29,341.39C601.79,341.34 605.85,341.18 608.37,341.39C610.89,341.59 612.01,341.8 613.41,342.62C614.81,343.44 615.93,345.08 616.77,346.31C617.61,347.54 618.31,348.76 618.45,349.99C618.59,351.22 618.45,352.71 617.61,353.68C616.77,354.66 615.23,355.37 613.41,355.83C611.59,356.3 609.21,356.3 606.69,356.45C604.17,356.6 600.81,356.6 598.29,356.76C595.77,356.91 593.81,357.06 591.57,357.37C589.32,357.68 587.08,358.34 584.84,358.6C582.6,358.86 580.22,359.06 578.12,358.91C576.02,358.75 574.06,358.34 572.24,357.68C570.42,357.01 568.39,355.89 567.2,354.91C566.01,353.94 565.52,352.76 565.1,351.84C564.68,350.92 564.47,350.4 564.68,349.38Z" fill="#eaecea" filter="url(#b2)"/>
<ellipse cx="594.15" cy="352.08" rx="17.05" ry="3.8" fill="#ffffff" opacity="0.85" filter="url(#b2)"/>
</g>
<defs><clipPath id="cp5"><rect x="666.6" y="262.1" width="135.2" height="134.7"/></clipPath>
<linearGradient id="tg5" x1="0" y1="0" x2="0.25" y2="1"><stop offset="0" stop-color="#ad2a28"/><stop offset="1" stop-color="#b8312b"/></linearGradient></defs>
<g clip-path="url(#cp5)">
<g filter="url(#nz)">
<rect x="665.6" y="261.1" width="137.2" height="136.7" fill="url(#tg5)"/>
<g filter="url(#b8)" opacity="0.8" transform="translate(6,-5)">
<path d="M698.86,311.25C698.69,309.54 699.71,308.43 700.91,307.15C702.1,305.87 703.81,304.42 706.03,303.57C708.25,302.71 711.15,302.54 714.23,302.03C717.3,301.52 721.06,300.92 724.47,300.49C727.89,300.07 731.64,299.64 734.72,299.47C737.79,299.3 740.35,298.96 742.91,299.47C745.47,299.98 747.69,301.86 750.09,302.54C752.48,303.23 754.87,303.4 757.26,303.57C759.65,303.74 762.55,302.8 764.43,303.57C766.31,304.34 767.67,306.21 768.53,308.18C769.38,310.14 769.55,313.13 769.55,315.35C769.55,317.57 769.38,319.79 768.53,321.5C767.67,323.2 766.65,324.66 764.43,325.59C762.21,326.53 758.45,327.05 755.21,327.13C751.96,327.22 748.38,326.02 744.96,326.11C741.55,326.19 738.13,327.47 734.72,327.64C731.3,327.81 727.55,327.47 724.47,327.13C721.4,326.79 719.01,326.36 716.28,325.59C713.54,324.83 710.47,323.89 708.08,322.52C705.69,321.15 703.47,319.28 701.93,317.4C700.4,315.52 699.03,312.96 698.86,311.25Z" fill="#2c0616" stroke="#2c0616" stroke-width="8"/>
<path d="M700.4,349.16C700.31,347.11 700.99,344.72 701.93,343.01C702.87,341.3 703.98,339.77 706.03,338.91C708.08,338.06 711.15,337.72 714.23,337.89C717.3,338.06 721.06,339.6 724.47,339.94C727.89,340.28 731.3,340.11 734.72,339.94C738.13,339.77 741.89,338.91 744.96,338.91C748.04,338.91 750.6,339.08 753.16,339.94C755.72,340.79 758.45,342.5 760.33,344.04C762.21,345.57 763.66,347.28 764.43,349.16C765.2,351.04 765.28,353.51 764.94,355.31C764.6,357.1 764,358.98 762.38,359.92C760.76,360.86 758.11,360.86 755.21,360.94C752.3,361.03 748.38,360.34 744.96,360.43C741.55,360.51 738.13,361.03 734.72,361.45C731.3,361.88 727.89,362.82 724.47,362.99C721.06,363.16 717.13,362.99 714.23,362.48C711.32,361.97 709.02,361.11 707.05,359.92C705.09,358.72 703.55,357.1 702.44,355.31C701.33,353.51 700.48,351.21 700.4,349.16Z" fill="#2c0616" stroke="#2c0616" stroke-width="8"/>
</g>
<ellipse cx="736.77" cy="332.25" rx="28.69" ry="5.12" fill="#1a0612" opacity="0.9" filter="url(#b4)"/>
</g>
<path d="M698.86,311.25C698.69,309.54 699.71,308.43 700.91,307.15C702.1,305.87 703.81,304.42 706.03,303.57C708.25,302.71 711.15,302.54 714.23,302.03C717.3,301.52 721.06,300.92 724.47,300.49C727.89,300.07 731.64,299.64 734.72,299.47C737.79,299.3 740.35,298.96 742.91,299.47C745.47,299.98 747.69,301.86 750.09,302.54C752.48,303.23 754.87,303.4 757.26,303.57C759.65,303.74 762.55,302.8 764.43,303.57C766.31,304.34 767.67,306.21 768.53,308.18C769.38,310.14 769.55,313.13 769.55,315.35C769.55,317.57 769.38,319.79 768.53,321.5C767.67,323.2 766.65,324.66 764.43,325.59C762.21,326.53 758.45,327.05 755.21,327.13C751.96,327.22 748.38,326.02 744.96,326.11C741.55,326.19 738.13,327.47 734.72,327.64C731.3,327.81 727.55,327.47 724.47,327.13C721.4,326.79 719.01,326.36 716.28,325.59C713.54,324.83 710.47,323.89 708.08,322.52C705.69,321.15 703.47,319.28 701.93,317.4C700.4,315.52 699.03,312.96 698.86,311.25Z" fill="#b5dddc" filter="url(#b1)"/>
<path d="M704.74,311.76C704.6,310.49 705.42,309.67 706.37,308.73C707.33,307.78 708.7,306.7 710.47,306.07C712.25,305.44 714.57,305.31 717.03,304.94C719.49,304.56 722.49,304.11 725.23,303.8C727.96,303.48 730.96,303.17 733.42,303.04C735.88,302.91 737.93,302.66 739.98,303.04C742.03,303.42 743.8,304.81 745.72,305.31C747.63,305.82 749.54,305.95 751.45,306.07C753.37,306.2 755.69,305.5 757.19,306.07C758.69,306.64 759.79,308.03 760.47,309.48C761.15,310.94 761.29,313.15 761.29,314.79C761.29,316.43 761.15,318.08 760.47,319.34C759.79,320.6 758.97,321.68 757.19,322.37C755.42,323.07 752.41,323.45 749.81,323.51C747.22,323.57 744.35,322.69 741.62,322.75C738.89,322.81 736.15,323.76 733.42,323.89C730.69,324.02 727.68,323.76 725.23,323.51C722.77,323.26 720.85,322.94 718.67,322.37C716.48,321.8 714.02,321.11 712.11,320.1C710.2,319.09 708.42,317.7 707.19,316.31C705.96,314.92 704.87,313.02 704.74,311.76Z" fill="#58c3ca" filter="url(#b2)"/>
<ellipse cx="732.21" cy="317.15" rx="14.14" ry="1.97" fill="#e8f6f5" opacity="0.5" filter="url(#b2)"/>
<path d="M700.4,349.16C700.31,347.11 700.99,344.72 701.93,343.01C702.87,341.3 703.98,339.77 706.03,338.91C708.08,338.06 711.15,337.72 714.23,337.89C717.3,338.06 721.06,339.6 724.47,339.94C727.89,340.28 731.3,340.11 734.72,339.94C738.13,339.77 741.89,338.91 744.96,338.91C748.04,338.91 750.6,339.08 753.16,339.94C755.72,340.79 758.45,342.5 760.33,344.04C762.21,345.57 763.66,347.28 764.43,349.16C765.2,351.04 765.28,353.51 764.94,355.31C764.6,357.1 764,358.98 762.38,359.92C760.76,360.86 758.11,360.86 755.21,360.94C752.3,361.03 748.38,360.34 744.96,360.43C741.55,360.51 738.13,361.03 734.72,361.45C731.3,361.88 727.89,362.82 724.47,362.99C721.06,363.16 717.13,362.99 714.23,362.48C711.32,361.97 709.02,361.11 707.05,359.92C705.09,358.72 703.55,357.1 702.44,355.31C701.33,353.51 700.48,351.21 700.4,349.16Z" fill="#b5dddc" filter="url(#b1)"/>
<path d="M705.29,349.51C705.22,347.99 705.77,346.22 706.52,344.96C707.27,343.7 708.16,342.56 709.8,341.93C711.44,341.3 713.9,341.04 716.36,341.17C718.81,341.3 721.82,342.43 724.55,342.69C727.28,342.94 730.02,342.81 732.75,342.69C735.48,342.56 738.49,341.93 740.94,341.93C743.4,341.93 745.45,342.05 747.5,342.69C749.55,343.32 751.74,344.58 753.24,345.72C754.74,346.86 755.9,348.12 756.52,349.51C757.13,350.9 757.2,352.73 756.93,354.06C756.65,355.38 756.18,356.77 754.88,357.47C753.58,358.16 751.46,358.16 749.14,358.23C746.82,358.29 743.68,357.79 740.94,357.85C738.21,357.91 735.48,358.29 732.75,358.61C730.02,358.92 727.28,359.62 724.55,359.74C721.82,359.87 718.68,359.74 716.36,359.37C714.03,358.99 712.19,358.35 710.62,357.47C709.05,356.59 707.82,355.38 706.93,354.06C706.04,352.73 705.36,351.03 705.29,349.51Z" fill="#58c3ca" filter="url(#b2)"/>
<ellipse cx="729.14" cy="354.02" rx="12.91" ry="1.76" fill="#e8f6f5" opacity="0.5" filter="url(#b2)"/>
</g>
<defs><clipPath id="cp6"><rect x="811.1" y="262.1" width="135.4" height="134.7"/></clipPath>
<linearGradient id="tg6" x1="0" y1="0" x2="0.25" y2="1"><stop offset="0" stop-color="#b62d29"/><stop offset="1" stop-color="#be332b"/></linearGradient></defs>
<g clip-path="url(#cp6)">
<g filter="url(#nz)">
<rect x="810.1" y="261.1" width="137.4" height="136.7" fill="url(#tg6)"/>
<g filter="url(#b8)" opacity="0.3" transform="translate(5,-5)">
<path d="M841.83,310.23C841.83,308.18 842.52,305.79 843.88,304.08C845.25,302.37 847.3,300.84 850.03,299.98C852.76,299.13 856.35,299.21 860.28,298.96C864.2,298.7 869.15,298.65 873.59,298.44C878.03,298.24 882.64,297.73 886.91,297.73C891.18,297.73 895.96,297.73 899.21,298.44C902.45,299.16 904.5,300.41 906.38,302.03C908.26,303.65 909.79,305.96 910.48,308.18C911.16,310.4 910.99,313.13 910.48,315.35C909.97,317.57 908.94,319.96 907.4,321.5C905.87,323.03 903.99,324.14 901.26,324.57C898.52,325 894.77,324.31 891.01,324.06C887.25,323.8 882.82,323.2 878.72,323.03C874.62,322.86 870.18,323.12 866.42,323.03C862.67,322.95 859.08,322.95 856.18,322.52C853.27,322.09 851.05,321.5 849.01,320.47C846.96,319.45 845.08,318.08 843.88,316.37C842.69,314.67 841.83,312.28 841.83,310.23Z" fill="#640e24" stroke="#640e24" stroke-width="6"/>
<path d="M842.86,346.09C842.94,344.21 843.2,341.65 844.4,339.94C845.59,338.23 847.73,336.61 850.03,335.84C852.34,335.07 855.15,335.24 858.23,335.33C861.3,335.41 865.06,336.35 868.47,336.35C871.89,336.35 875.3,335.58 878.72,335.33C882.13,335.07 885.55,334.9 888.96,334.82C892.38,334.73 896.13,334.39 899.21,334.82C902.28,335.24 905.01,336.01 907.4,337.38C909.79,338.74 912.19,340.71 913.55,343.01C914.92,345.32 915.43,348.65 915.6,351.21C915.77,353.77 915.6,356.5 914.58,358.38C913.55,360.26 912.01,361.62 909.45,362.48C906.89,363.33 902.96,363.33 899.21,363.5C895.45,363.67 891.18,363.33 886.91,363.5C882.64,363.67 877.69,364.36 873.59,364.53C869.5,364.7 865.74,365.04 862.32,364.53C858.91,364.01 855.67,362.82 853.1,361.45C850.54,360.09 848.49,358.04 846.96,356.33C845.42,354.62 844.57,352.92 843.88,351.21C843.2,349.5 842.77,347.96 842.86,346.09Z" fill="#640e24" stroke="#640e24" stroke-width="6"/>
</g>
<ellipse cx="882.82" cy="329.69" rx="26.64" ry="4.1" fill="#7a1420" opacity="0.5" filter="url(#b4)"/>
<ellipse cx="884.86" cy="290.76" rx="28.69" ry="8.71" fill="#640e24" opacity="0.3" filter="url(#b8)"/>
<ellipse cx="918.67" cy="329.69" rx="7.17" ry="15.37" fill="#640e24" opacity="0.32" filter="url(#b8)"/>
</g>
<path d="M841.83,310.23C841.83,308.18 842.52,305.79 843.88,304.08C845.25,302.37 847.3,300.84 850.03,299.98C852.76,299.13 856.35,299.21 860.28,298.96C864.2,298.7 869.15,298.65 873.59,298.44C878.03,298.24 882.64,297.73 886.91,297.73C891.18,297.73 895.96,297.73 899.21,298.44C902.45,299.16 904.5,300.41 906.38,302.03C908.26,303.65 909.79,305.96 910.48,308.18C911.16,310.4 910.99,313.13 910.48,315.35C909.97,317.57 908.94,319.96 907.4,321.5C905.87,323.03 903.99,324.14 901.26,324.57C898.52,325 894.77,324.31 891.01,324.06C887.25,323.8 882.82,323.2 878.72,323.03C874.62,322.86 870.18,323.12 866.42,323.03C862.67,322.95 859.08,322.95 856.18,322.52C853.27,322.09 851.05,321.5 849.01,320.47C846.96,319.45 845.08,318.08 843.88,316.37C842.69,314.67 841.83,312.28 841.83,310.23Z" fill="#d6dad8" filter="url(#b1)"/>
<path d="M848.07,311.38C848.07,310.15 848.63,308.72 849.75,307.69C850.87,306.67 852.55,305.74 854.79,305.23C857.03,304.72 859.98,304.77 863.2,304.62C866.42,304.46 870.48,304.43 874.12,304.31C877.76,304.19 881.54,303.88 885.04,303.88C888.54,303.88 892.46,303.88 895.12,304.31C897.78,304.74 899.46,305.49 901,306.46C902.54,307.44 903.8,308.82 904.36,310.15C904.92,311.48 904.78,313.12 904.36,314.45C903.94,315.79 903.1,317.22 901.84,318.14C900.58,319.06 899.04,319.73 896.8,319.99C894.56,320.24 891.48,319.83 888.4,319.68C885.32,319.52 881.68,319.17 878.32,319.06C874.96,318.96 871.32,319.12 868.24,319.06C865.16,319.01 862.22,319.01 859.84,318.76C857.45,318.5 855.63,318.14 853.95,317.53C852.27,316.91 850.73,316.09 849.75,315.07C848.77,314.04 848.07,312.61 848.07,311.38Z" fill="#eaecea" filter="url(#b2)"/>
<ellipse cx="879.93" cy="313.76" rx="17.85" ry="3.49" fill="#ffffff" opacity="0.85" filter="url(#b2)"/>
<path d="M842.86,346.09C842.94,344.21 843.2,341.65 844.4,339.94C845.59,338.23 847.73,336.61 850.03,335.84C852.34,335.07 855.15,335.24 858.23,335.33C861.3,335.41 865.06,336.35 868.47,336.35C871.89,336.35 875.3,335.58 878.72,335.33C882.13,335.07 885.55,334.9 888.96,334.82C892.38,334.73 896.13,334.39 899.21,334.82C902.28,335.24 905.01,336.01 907.4,337.38C909.79,338.74 912.19,340.71 913.55,343.01C914.92,345.32 915.43,348.65 915.6,351.21C915.77,353.77 915.6,356.5 914.58,358.38C913.55,360.26 912.01,361.62 909.45,362.48C906.89,363.33 902.96,363.33 899.21,363.5C895.45,363.67 891.18,363.33 886.91,363.5C882.64,363.67 877.69,364.36 873.59,364.53C869.5,364.7 865.74,365.04 862.32,364.53C858.91,364.01 855.67,362.82 853.1,361.45C850.54,360.09 848.49,358.04 846.96,356.33C845.42,354.62 844.57,352.92 843.88,351.21C843.2,349.5 842.77,347.96 842.86,346.09Z" fill="#d6dad8" filter="url(#b1)"/>
<path d="M849.16,347.77C849.23,346.64 849.44,345.11 850.42,344.08C851.4,343.06 853.15,342.08 855.04,341.62C856.93,341.16 859.24,341.27 861.76,341.32C864.28,341.37 867.36,341.93 870.16,341.93C872.96,341.93 875.76,341.47 878.57,341.32C881.37,341.16 884.17,341.06 886.97,341.01C889.77,340.96 892.85,340.75 895.37,341.01C897.89,341.27 900.13,341.73 902.09,342.55C904.05,343.37 906.01,344.54 907.13,345.93C908.25,347.31 908.67,349.31 908.81,350.84C908.95,352.38 908.81,354.02 907.97,355.15C907.13,356.27 905.87,357.09 903.77,357.61C901.67,358.12 898.45,358.12 895.37,358.22C892.29,358.32 888.79,358.12 885.29,358.22C881.79,358.32 877.72,358.73 874.36,358.84C871,358.94 867.92,359.14 865.12,358.84C862.32,358.53 859.66,357.81 857.56,356.99C855.46,356.17 853.78,354.94 852.52,353.92C851.26,352.89 850.56,351.87 850,350.84C849.44,349.82 849.09,348.9 849.16,347.77Z" fill="#eaecea" filter="url(#b2)"/>
<ellipse cx="881.51" cy="351.18" rx="18.91" ry="3.86" fill="#ffffff" opacity="0.85" filter="url(#b2)"/>
</g>
<defs><clipPath id="cp7"><rect x="955.3" y="262.1" width="135.5" height="134.7"/></clipPath>
<linearGradient id="tg7" x1="0" y1="0" x2="0.25" y2="1"><stop offset="0" stop-color="#a82727"/><stop offset="1" stop-color="#b32e2a"/></linearGradient></defs>
<g clip-path="url(#cp7)">
<g filter="url(#nz)">
<rect x="954.3" y="261.1" width="137.5" height="136.7" fill="url(#tg7)"/>
<g filter="url(#b8)" opacity="0.88" transform="translate(4,-5)">
<path d="M986.32,310.23C986.32,308.01 986.75,305.79 987.86,304.08C988.97,302.37 990.76,300.84 992.98,299.98C995.2,299.13 998.45,298.96 1001.18,298.96C1003.91,298.96 1006.47,299.64 1009.37,299.98C1012.28,300.32 1015.69,301.09 1018.59,301.01C1021.5,300.92 1023.89,299.98 1026.79,299.47C1029.69,298.96 1033.11,297.93 1036.01,297.93C1038.91,297.93 1041.99,298.44 1044.21,299.47C1046.43,300.49 1048.14,302.12 1049.33,304.08C1050.53,306.04 1051.38,309.03 1051.38,311.25C1051.38,313.47 1050.53,315.86 1049.33,317.4C1048.14,318.94 1046.43,320.04 1044.21,320.47C1041.99,320.9 1038.74,320.22 1036.01,319.96C1033.28,319.7 1030.72,318.85 1027.82,318.94C1024.91,319.02 1021.67,319.79 1018.59,320.47C1015.52,321.15 1012.45,322.52 1009.37,323.03C1006.3,323.55 1002.89,323.8 1000.15,323.55C997.42,323.29 995.03,322.52 992.98,321.5C990.93,320.47 988.97,319.28 987.86,317.4C986.75,315.52 986.32,312.45 986.32,310.23Z" fill="#1c0410" stroke="#1c0410" stroke-width="12"/>
<path d="M985.3,349.16C985.38,347.28 985.89,344.72 986.83,343.01C987.77,341.3 988.88,339.85 990.93,338.91C992.98,337.97 996.23,337.46 999.13,337.38C1002.03,337.29 1005.28,338.06 1008.35,338.4C1011.42,338.74 1014.5,339.51 1017.57,339.43C1020.64,339.34 1023.55,338.32 1026.79,337.89C1030.04,337.46 1033.62,336.78 1037.04,336.86C1040.45,336.95 1044.38,337.55 1047.28,338.4C1050.18,339.25 1052.75,340.36 1054.45,341.99C1056.16,343.61 1057.01,346.09 1057.53,348.13C1058.04,350.18 1058.04,352.32 1057.53,354.28C1057.01,356.25 1056.16,358.55 1054.45,359.92C1052.75,361.28 1050.18,362.14 1047.28,362.48C1044.38,362.82 1040.45,362.22 1037.04,361.97C1033.62,361.71 1030.04,361.03 1026.79,360.94C1023.55,360.86 1020.64,361.11 1017.57,361.45C1014.5,361.79 1011.42,362.82 1008.35,362.99C1005.28,363.16 1002.03,363.08 999.13,362.48C996.23,361.88 993.07,360.77 990.93,359.4C988.8,358.04 987.26,355.99 986.32,354.28C985.38,352.57 985.21,351.04 985.3,349.16Z" fill="#1c0410" stroke="#1c0410" stroke-width="12"/>
</g>
<ellipse cx="1021.67" cy="329.69" rx="32.78" ry="7.68" fill="#0c040c" opacity="1.0" filter="url(#b4)"/>
</g>
<path d="M986.32,310.23C986.32,308.01 986.75,305.79 987.86,304.08C988.97,302.37 990.76,300.84 992.98,299.98C995.2,299.13 998.45,298.96 1001.18,298.96C1003.91,298.96 1006.47,299.64 1009.37,299.98C1012.28,300.32 1015.69,301.09 1018.59,301.01C1021.5,300.92 1023.89,299.98 1026.79,299.47C1029.69,298.96 1033.11,297.93 1036.01,297.93C1038.91,297.93 1041.99,298.44 1044.21,299.47C1046.43,300.49 1048.14,302.12 1049.33,304.08C1050.53,306.04 1051.38,309.03 1051.38,311.25C1051.38,313.47 1050.53,315.86 1049.33,317.4C1048.14,318.94 1046.43,320.04 1044.21,320.47C1041.99,320.9 1038.74,320.22 1036.01,319.96C1033.28,319.7 1030.72,318.85 1027.82,318.94C1024.91,319.02 1021.67,319.79 1018.59,320.47C1015.52,321.15 1012.45,322.52 1009.37,323.03C1006.3,323.55 1002.89,323.8 1000.15,323.55C997.42,323.29 995.03,322.52 992.98,321.5C990.93,320.47 988.97,319.28 987.86,317.4C986.75,315.52 986.32,312.45 986.32,310.23Z" fill="#a9dfdf" filter="url(#b1)"/>
<path d="M991.47,310.28C991.47,308.59 991.83,306.91 992.76,305.61C993.7,304.31 995.2,303.14 997.07,302.5C998.93,301.85 1001.66,301.72 1003.95,301.72C1006.25,301.72 1008.4,302.24 1010.84,302.5C1013.28,302.75 1016.14,303.34 1018.58,303.27C1021.02,303.21 1023.03,302.5 1025.47,302.11C1027.91,301.72 1030.77,300.94 1033.21,300.94C1035.65,300.94 1038.23,301.33 1040.1,302.11C1041.96,302.88 1043.4,304.12 1044.4,305.61C1045.4,307.1 1046.12,309.37 1046.12,311.06C1046.12,312.75 1045.4,314.56 1044.4,315.73C1043.4,316.9 1041.96,317.74 1040.1,318.07C1038.23,318.39 1035.51,317.87 1033.21,317.68C1030.92,317.48 1028.77,316.84 1026.33,316.9C1023.89,316.97 1021.16,317.55 1018.58,318.07C1016,318.59 1013.42,319.63 1010.84,320.01C1008.25,320.4 1005.39,320.6 1003.09,320.4C1000.8,320.21 998.79,319.63 997.07,318.85C995.35,318.07 993.7,317.16 992.76,315.73C991.83,314.3 991.47,311.97 991.47,310.28Z" fill="#76cdd4" filter="url(#b2)"/>
<ellipse cx="1015.26" cy="314.04" rx="13.01" ry="1.79" fill="#e8f6f5" opacity="0.5" filter="url(#b2)"/>
<path d="M985.3,349.16C985.38,347.28 985.89,344.72 986.83,343.01C987.77,341.3 988.88,339.85 990.93,338.91C992.98,337.97 996.23,337.46 999.13,337.38C1002.03,337.29 1005.28,338.06 1008.35,338.4C1011.42,338.74 1014.5,339.51 1017.57,339.43C1020.64,339.34 1023.55,338.32 1026.79,337.89C1030.04,337.46 1033.62,336.78 1037.04,336.86C1040.45,336.95 1044.38,337.55 1047.28,338.4C1050.18,339.25 1052.75,340.36 1054.45,341.99C1056.16,343.61 1057.01,346.09 1057.53,348.13C1058.04,350.18 1058.04,352.32 1057.53,354.28C1057.01,356.25 1056.16,358.55 1054.45,359.92C1052.75,361.28 1050.18,362.14 1047.28,362.48C1044.38,362.82 1040.45,362.22 1037.04,361.97C1033.62,361.71 1030.04,361.03 1026.79,360.94C1023.55,360.86 1020.64,361.11 1017.57,361.45C1014.5,361.79 1011.42,362.82 1008.35,362.99C1005.28,363.16 1002.03,363.08 999.13,362.48C996.23,361.88 993.07,360.77 990.93,359.4C988.8,358.04 987.26,355.99 986.32,354.28C985.38,352.57 985.21,351.04 985.3,349.16Z" fill="#a9dfdf" filter="url(#b1)"/>
<path d="M990.98,349.36C991.05,347.93 991.48,345.98 992.27,344.69C993.06,343.39 993.99,342.29 995.71,341.57C997.43,340.86 1000.16,340.47 1002.59,340.4C1005.03,340.34 1007.76,340.92 1010.34,341.18C1012.92,341.44 1015.5,342.03 1018.09,341.96C1020.67,341.9 1023.11,341.12 1025.83,340.79C1028.56,340.47 1031.57,339.95 1034.44,340.01C1037.31,340.08 1040.6,340.53 1043.04,341.18C1045.48,341.83 1047.63,342.67 1049.07,343.91C1050.5,345.14 1051.22,347.02 1051.65,348.58C1052.08,350.14 1052.08,351.76 1051.65,353.25C1051.22,354.74 1050.5,356.5 1049.07,357.53C1047.63,358.57 1045.48,359.22 1043.04,359.48C1040.6,359.74 1037.31,359.29 1034.44,359.09C1031.57,358.9 1028.56,358.38 1025.83,358.31C1023.11,358.25 1020.67,358.44 1018.09,358.7C1015.5,358.96 1012.92,359.74 1010.34,359.87C1007.76,360 1005.03,359.93 1002.59,359.48C1000.16,359.03 997.5,358.18 995.71,357.14C993.92,356.11 992.63,354.55 991.84,353.25C991.05,351.95 990.9,350.79 990.98,349.36Z" fill="#76cdd4" filter="url(#b2)"/>
<ellipse cx="1017.18" cy="353.65" rx="14.45" ry="1.83" fill="#e8f6f5" opacity="0.5" filter="url(#b2)"/>
</g>
<text x="-2.2" y="508.2" font-size="48" font-weight="bold" style="stroke-width:0.4px">b</text>
<rect x="263.7" y="1201.1" width="35.7" height="29.5" fill="#d1d1d1"/>
<rect x="299.4" y="1196" width="36.4" height="34.6" fill="#ffff00"/>
<rect x="371" y="1208.1" width="35.7" height="22.5" fill="#d1d1d1"/>
<rect x="406.7" y="1208.6" width="36.3" height="22" fill="#ffff00"/>
<rect x="478.6" y="1214.5" width="35.5" height="16.1" fill="#d1d1d1"/>
<rect x="514.1" y="1217.9" width="35.9" height="12.7" fill="#ffff00"/>
<rect x="585.4" y="1211.5" width="36.2" height="19.1" fill="#d1d1d1"/>
<rect x="621.6" y="1212.3" width="36.1" height="18.3" fill="#ffff00"/>
<rect x="693.3" y="1217.4" width="35.9" height="13.2" fill="#d1d1d1"/>
<rect x="729.2" y="1219" width="36.1" height="11.6" fill="#ffff00"/>
<rect x="800.1" y="1217" width="35.8" height="13.6" fill="#d1d1d1"/>
<rect x="835.9" y="1207.2" width="36.2" height="23.4" fill="#ffff00"/>
<rect x="907.9" y="1192.8" width="36.2" height="37.8" fill="#d1d1d1"/>
<rect x="944.1" y="1195.7" width="36.1" height="34.9" fill="#ffff00"/>
<rect x="1015.3" y="717.6" width="35.4" height="513" fill="#d1d1d1"/>
<rect x="1050.7" y="803.9" width="36.2" height="426.7" fill="#ffff00"/>
<rect x="1122.3" y="1115.7" width="36" height="114.9" fill="#d1d1d1"/>
<rect x="1158.3" y="1180.1" width="36" height="50.5" fill="#ffff00"/>
<rect x="1230.2" y="857" width="35.6" height="373.6" fill="#d1d1d1"/>
<rect x="1265.8" y="966.5" width="36.1" height="264.1" fill="#ffff00"/>
<rect x="1337.1" y="831.8" width="35.7" height="398.8" fill="#d1d1d1"/>
<rect x="1372.8" y="919.1" width="36.4" height="311.5" fill="#ffff00"/>
<rect x="1444.7" y="1184.6" width="35.6" height="46" fill="#d1d1d1"/>
<rect x="1480.3" y="1201.1" width="36.2" height="29.5" fill="#ffff00"/>
<rect x="244.25" y="484.25" width="2.9" height="747.8" fill="#000"/>
<rect x="232.5" y="1229.15" width="1302.5" height="2.9" fill="#000"/>
<rect x="232.5" y="1080.25" width="13.2" height="2.7" fill="#000"/>
<rect x="232.5" y="931.25" width="13.2" height="2.7" fill="#000"/>
<rect x="232.5" y="782.25" width="13.2" height="2.7" fill="#000"/>
<rect x="232.5" y="633.25" width="13.2" height="2.7" fill="#000"/>
<rect x="232.5" y="484.25" width="13.2" height="2.7" fill="#000"/>
<text x="228" y="1242" font-size="35" text-anchor="end">0</text>
<text x="228" y="1093" font-size="35" text-anchor="end">20</text>
<text x="228" y="944" font-size="35" text-anchor="end">40</text>
<text x="228" y="795" font-size="35" text-anchor="end">60</text>
<text x="228" y="646" font-size="35" text-anchor="end">80</text>
<text x="228" y="497" font-size="35" text-anchor="end">100</text>
<rect x="297.25" y="1230.6" width="2.7" height="13" fill="#000"/>
<rect x="404.75" y="1230.6" width="2.7" height="13" fill="#000"/>
<rect x="511.45" y="1230.6" width="2.7" height="13" fill="#000"/>
<rect x="619.65" y="1230.6" width="2.7" height="13" fill="#000"/>
<rect x="727.05" y="1230.6" width="2.7" height="13" fill="#000"/>
<rect x="834.05" y="1230.6" width="2.7" height="13" fill="#000"/>
<rect x="941.05" y="1230.6" width="2.7" height="13" fill="#000"/>
<rect x="1048.45" y="1230.6" width="2.7" height="13" fill="#000"/>
<rect x="1155.25" y="1230.6" width="2.7" height="13" fill="#000"/>
<rect x="1262.95" y="1230.6" width="2.7" height="13" fill="#000"/>
<rect x="1370.45" y="1230.6" width="2.7" height="13" fill="#000"/>
<rect x="1478.25" y="1230.6" width="2.7" height="13" fill="#000"/>
<path d="M281.1,1186.7 V1215.3 M276.7,1186.7 H285.5 M276.7,1215.3 H285.5" stroke="#000" stroke-width="1.8" fill="none"/>
<path d="M317,1177.6 V1217 M312.6,1177.6 H321.4 M312.6,1217 H321.4" stroke="#000" stroke-width="1.8" fill="none"/>
<path d="M388.8,1192.8 V1224.4 M384.4,1192.8 H393.2 M384.4,1224.4 H393.2" stroke="#000" stroke-width="1.8" fill="none"/>
<path d="M424.4,1192 V1226.4 M420,1192 H428.8 M420,1226.4 H428.8" stroke="#000" stroke-width="1.8" fill="none"/>
<path d="M495.8,1211.5 V1220 M491.4,1211.5 H500.2 M491.4,1220 H500.2" stroke="#000" stroke-width="1.8" fill="none"/>
<path d="M531.4,1212.8 V1222.1 M527,1212.8 H535.8 M527,1222.1 H535.8" stroke="#000" stroke-width="1.8" fill="none"/>
<path d="M603,1204.7 V1217 M598.6,1204.7 H607.4 M598.6,1217 H607.4" stroke="#000" stroke-width="1.8" fill="none"/>
<path d="M639.1,1205 V1219.9 M634.7,1205 H643.5 M634.7,1219.9 H643.5" stroke="#000" stroke-width="1.8" fill="none"/>
<path d="M817.9,1209.8 V1224 M813.5,1209.8 H822.3 M813.5,1224 H822.3" stroke="#000" stroke-width="1.8" fill="none"/>
<path d="M853.7,1190.3 V1224.2 M849.3,1190.3 H858.1 M849.3,1224.2 H858.1" stroke="#000" stroke-width="1.8" fill="none"/>
<path d="M925.7,1185.7 V1199.3 M921.3,1185.7 H930.1 M921.3,1199.3 H930.1" stroke="#000" stroke-width="1.8" fill="none"/>
<path d="M961.2,1188.9 V1202.5 M956.8,1188.9 H965.6 M956.8,1202.5 H965.6" stroke="#000" stroke-width="1.8" fill="none"/>
<path d="M1032.7,639.4 V796 M1028.3,639.4 H1037.1 M1028.3,796 H1037.1" stroke="#000" stroke-width="1.8" fill="none"/>
<path d="M1068.4,745.8 V863.4 M1064,745.8 H1072.8 M1064,863.4 H1072.8" stroke="#000" stroke-width="1.8" fill="none"/>
<path d="M1139.9,1086.3 V1146 M1135.5,1086.3 H1144.3 M1135.5,1146 H1144.3" stroke="#000" stroke-width="1.8" fill="none"/>
<path d="M1175.9,1172.8 V1187.9 M1171.5,1172.8 H1180.3 M1171.5,1187.9 H1180.3" stroke="#000" stroke-width="1.8" fill="none"/>
<path d="M1247.8,798.4 V915.6 M1243.4,798.4 H1252.2 M1243.4,915.6 H1252.2" stroke="#000" stroke-width="1.8" fill="none"/>
<path d="M1282.9,934.1 V999.4 M1278.5,934.1 H1287.3 M1278.5,999.4 H1287.3" stroke="#000" stroke-width="1.8" fill="none"/>
<path d="M1354.8,743.9 V917 M1350.4,743.9 H1359.2 M1350.4,917 H1359.2" stroke="#000" stroke-width="1.8" fill="none"/>
<path d="M1390.8,850.8 V987.2 M1386.4,850.8 H1395.2 M1386.4,987.2 H1395.2" stroke="#000" stroke-width="1.8" fill="none"/>
<path d="M1462,1179.8 V1189.2 M1457.6,1179.8 H1466.4 M1457.6,1189.2 H1466.4" stroke="#000" stroke-width="1.8" fill="none"/>
<path d="M1495.5,1199 V1203.3 M1491.1,1199 H1499.9 M1491.1,1203.3 H1499.9" stroke="#000" stroke-width="1.8" fill="none"/>
<circle cx="268.4" cy="1191" r="5" fill="#ff0000"/>
<circle cx="294.3" cy="1186" r="5" fill="#ff0000"/>
<circle cx="268.4" cy="1215.2" r="5" fill="#ff0000"/>
<circle cx="294.3" cy="1211.8" r="5" fill="#ff0000"/>
<circle cx="304" cy="1180.6" r="5" fill="#ff0000"/>
<circle cx="330.2" cy="1180.1" r="5" fill="#ff0000"/>
<circle cx="317" cy="1206.4" r="5" fill="#ff0000"/>
<circle cx="317" cy="1217.2" r="5" fill="#ff0000"/>
<circle cx="375.9" cy="1219.3" r="5" fill="#ff0000"/>
<circle cx="388.8" cy="1185.4" r="5" fill="#ff0000"/>
<circle cx="388.8" cy="1213.2" r="5" fill="#ff0000"/>
<circle cx="402" cy="1214.5" r="5" fill="#ff0000"/>
<circle cx="411.5" cy="1221.6" r="5" fill="#ff0000"/>
<circle cx="424.4" cy="1184" r="5" fill="#ff0000"/>
<circle cx="424.4" cy="1215.4" r="5" fill="#ff0000"/>
<circle cx="437.7" cy="1215.9" r="5" fill="#ff0000"/>
<circle cx="483" cy="1210.6" r="5" fill="#ff0000"/>
<circle cx="483" cy="1220.3" r="5" fill="#ff0000"/>
<circle cx="500.2" cy="1217" r="5" fill="#ff0000"/>
<circle cx="509.4" cy="1214.5" r="5" fill="#ff0000"/>
<circle cx="518.7" cy="1212.3" r="5" fill="#ff0000"/>
<circle cx="518.7" cy="1222.1" r="5" fill="#ff0000"/>
<circle cx="531.4" cy="1216.5" r="5" fill="#ff0000"/>
<circle cx="545" cy="1220.3" r="5" fill="#ff0000"/>
<circle cx="590.3" cy="1216.2" r="5" fill="#ff0000"/>
<circle cx="603" cy="1211.5" r="5" fill="#ff0000"/>
<circle cx="616.4" cy="1203" r="5" fill="#ff0000"/>
<circle cx="616.4" cy="1214" r="5" fill="#ff0000"/>
<circle cx="626" cy="1219.9" r="5" fill="#ff0000"/>
<circle cx="639.1" cy="1202.7" r="5" fill="#ff0000"/>
<circle cx="639.1" cy="1212.3" r="5" fill="#ff0000"/>
<circle cx="652.1" cy="1214.9" r="5" fill="#ff0000"/>
<circle cx="697.9" cy="1216.9" r="5" fill="#ff0000"/>
<circle cx="706.8" cy="1212.8" r="5" fill="#ff0000"/>
<circle cx="715" cy="1215.7" r="5" fill="#ff0000"/>
<circle cx="724.1" cy="1214" r="5" fill="#ff0000"/>
<circle cx="733.9" cy="1218.7" r="5" fill="#ff0000"/>
<circle cx="742.7" cy="1214.9" r="5" fill="#ff0000"/>
<circle cx="750.9" cy="1217.4" r="5" fill="#ff0000"/>
<circle cx="759.9" cy="1216.5" r="5" fill="#ff0000"/>
<circle cx="804.9" cy="1209.8" r="5" fill="#ff0000"/>
<circle cx="817.9" cy="1217" r="5" fill="#ff0000"/>
<circle cx="817.9" cy="1226.4" r="5" fill="#ff0000"/>
<circle cx="831.1" cy="1216.5" r="5" fill="#ff0000"/>
<circle cx="840.6" cy="1219.1" r="5" fill="#ff0000"/>
<circle cx="853.7" cy="1182.7" r="5" fill="#ff0000"/>
<circle cx="853.7" cy="1212.3" r="5" fill="#ff0000"/>
<circle cx="867" cy="1216.9" r="5" fill="#ff0000"/>
<circle cx="912.4" cy="1187.8" r="5" fill="#ff0000"/>
<circle cx="912.4" cy="1199.6" r="5" fill="#ff0000"/>
<circle cx="938.7" cy="1186.4" r="5" fill="#ff0000"/>
<circle cx="938.7" cy="1196.7" r="5" fill="#ff0000"/>
<circle cx="948" cy="1190.8" r="5" fill="#ff0000"/>
<circle cx="948" cy="1202.7" r="5" fill="#ff0000"/>
<circle cx="974.3" cy="1189.1" r="5" fill="#ff0000"/>
<circle cx="974.3" cy="1200" r="5" fill="#ff0000"/>
<circle cx="1032.7" cy="631" r="5" fill="#ff0000"/>
<circle cx="1032.7" cy="683.5" r="5" fill="#ff0000"/>
<circle cx="1032.7" cy="741.6" r="5" fill="#ff0000"/>
<circle cx="1032.7" cy="813.3" r="5" fill="#ff0000"/>
<circle cx="1068.4" cy="737.9" r="5" fill="#ff0000"/>
<circle cx="1068.4" cy="787.6" r="5" fill="#ff0000"/>
<circle cx="1068.4" cy="812.9" r="5" fill="#ff0000"/>
<circle cx="1068.4" cy="879.7" r="5" fill="#ff0000"/>
<circle cx="1127.1" cy="1117.8" r="5" fill="#ff0000"/>
<circle cx="1153.6" cy="1120" r="5" fill="#ff0000"/>
<circle cx="1139.9" cy="1077.1" r="5" fill="#ff0000"/>
<circle cx="1139.9" cy="1149" r="5" fill="#ff0000"/>
<circle cx="1163" cy="1187.6" r="5" fill="#ff0000"/>
<circle cx="1175.9" cy="1168.5" r="5" fill="#ff0000"/>
<circle cx="1175.9" cy="1182.2" r="5" fill="#ff0000"/>
<circle cx="1189.4" cy="1182.2" r="5" fill="#ff0000"/>
<circle cx="1247.8" cy="789.4" r="5" fill="#ff0000"/>
<circle cx="1247.8" cy="826.2" r="5" fill="#ff0000"/>
<circle cx="1234.9" cy="908" r="5" fill="#ff0000"/>
<circle cx="1261" cy="903.9" r="5" fill="#ff0000"/>
<circle cx="1282.9" cy="921.2" r="5" fill="#ff0000"/>
<circle cx="1282.9" cy="964.7" r="5" fill="#ff0000"/>
<circle cx="1270" cy="993.6" r="5" fill="#ff0000"/>
<circle cx="1296.2" cy="987.6" r="5" fill="#ff0000"/>
<circle cx="1354.8" cy="723.8" r="5" fill="#ff0000"/>
<circle cx="1354.8" cy="798.8" r="5" fill="#ff0000"/>
<circle cx="1354.8" cy="887.7" r="5" fill="#ff0000"/>
<circle cx="1354.8" cy="916.7" r="5" fill="#ff0000"/>
<circle cx="1390.8" cy="832.2" r="5" fill="#ff0000"/>
<circle cx="1390.8" cy="906.6" r="5" fill="#ff0000"/>
<circle cx="1390.8" cy="941.6" r="5" fill="#ff0000"/>
<circle cx="1390.8" cy="995.1" r="5" fill="#ff0000"/>
<circle cx="1449.3" cy="1178.7" r="5" fill="#ff0000"/>
<circle cx="1449.3" cy="1189.1" r="5" fill="#ff0000"/>
<circle cx="1462" cy="1183.2" r="5" fill="#ff0000"/>
<circle cx="1475.4" cy="1187.8" r="5" fill="#ff0000"/>
<circle cx="1484.8" cy="1203.7" r="5" fill="#ff0000"/>
<circle cx="1493.6" cy="1195.6" r="5" fill="#ff0000"/>
<circle cx="1502.1" cy="1199.5" r="5" fill="#ff0000"/>
<circle cx="1511.2" cy="1198.1" r="5" fill="#ff0000"/>
<text x="283.1" y="1169.5" font-size="38" text-anchor="middle">f</text>
<text x="319.2" y="1163.5" font-size="38" text-anchor="middle">f</text>
<text x="391.3" y="1168.3" font-size="38" text-anchor="middle">f</text>
<text x="422.5" y="1166.1" font-size="38" text-anchor="middle">f</text>
<text x="490.4" y="1198.4" font-size="38" text-anchor="middle">f</text>
<text x="530.9" y="1199.3" font-size="38" text-anchor="middle">f</text>
<text x="596.7" y="1190.3" font-size="38" text-anchor="middle">f</text>
<text x="634.9" y="1186.4" font-size="38" text-anchor="middle">f</text>
<text x="704.6" y="1195.4" font-size="38" text-anchor="middle">f</text>
<text x="745" y="1196.2" font-size="38" text-anchor="middle">f</text>
<text x="809.1" y="1192.5" font-size="38" text-anchor="middle">f</text>
<text x="855.7" y="1166.6" font-size="38" text-anchor="middle">f</text>
<text x="926" y="1171.7" font-size="38" text-anchor="middle">f</text>
<text x="961.6" y="1172.5" font-size="38" text-anchor="middle">f</text>
<text x="1033.1" y="610.7" font-size="38" text-anchor="middle">a</text>
<text x="1071.9" y="719.5" font-size="38" text-anchor="middle">b</text>
<text x="1139.3" y="1061.5" font-size="38" text-anchor="middle">e</text>
<text x="1178.2" y="1154.2" font-size="38" text-anchor="middle">f</text>
<text x="1247.5" y="771.6" font-size="38" text-anchor="middle">c</text>
<text x="1283.5" y="904.9" font-size="38" text-anchor="middle">d</text>
<text x="1355.3" y="705" font-size="38" text-anchor="middle">bc</text>
<text x="1391.7" y="813.5" font-size="38" text-anchor="middle">d</text>
<text x="1458.8" y="1168.9" font-size="38" text-anchor="middle">f</text>
<text x="1497.2" y="1181" font-size="38" text-anchor="middle">f</text>
<text transform="translate(136.5,852.5) rotate(-90)" font-size="35" text-anchor="middle">β-Galactosidase Activity (Miller Units)</text>
<rect x="335.3" y="516.2" width="49.6" height="15.6" fill="#d1d1d1"/>
<rect x="335.3" y="569" width="49.6" height="15.8" fill="#ffff00"/>
<text x="413.4" y="535.7" font-size="31.2">R+FR 5min</text>
<text x="413.4" y="588.9" font-size="31.2">R 5min</text>
<text x="240.2" y="1316.5" font-size="31" text-anchor="end">AD-TZP</text>
<text x="240.1" y="1379.3" font-size="31" text-anchor="end">phyA-NLS-LexA</text>
<text x="300.7" y="1312.5" font-size="30.6" text-anchor="middle" style="stroke-width:0.15px">–</text>
<text x="407.1" y="1312.5" font-size="30.6" text-anchor="middle" style="stroke-width:0.15px">–</text>
<text x="517" y="1312.5" font-size="30.6" text-anchor="middle" style="stroke-width:0.15px">–</text>
<text x="622.6" y="1312.5" font-size="30.6" text-anchor="middle" style="stroke-width:0.15px">–</text>
<text x="727.6" y="1312.5" font-size="30.6" text-anchor="middle" style="stroke-width:0.15px">–</text>
<text x="837.7" y="1312.5" font-size="30.6" text-anchor="middle" style="stroke-width:0.15px">–</text>
<text x="943" y="1313.3" font-size="26.6" text-anchor="middle" style="stroke-width:1.2px;stroke-linejoin:miter">+</text>
<text x="1056" y="1313.3" font-size="27" text-anchor="middle" style="stroke-width:0.55px;stroke-linejoin:miter">+</text>
<text x="1158" y="1313.3" font-size="27" text-anchor="middle" style="stroke-width:0.55px;stroke-linejoin:miter">+</text>
<text x="1265.7" y="1313.3" font-size="27" text-anchor="middle" style="stroke-width:0.55px;stroke-linejoin:miter">+</text>
<text x="1373.4" y="1313.3" font-size="27" text-anchor="middle" style="stroke-width:0.55px;stroke-linejoin:miter">+</text>
<text x="1481.5" y="1313.3" font-size="27" text-anchor="middle" style="stroke-width:0.55px;stroke-linejoin:miter">+</text>
<text x="300.7" y="1376.5" font-size="30.6" text-anchor="middle" style="stroke-width:0.15px">–</text>
<text x="406.7" y="1377.3" font-size="29" text-anchor="middle">WT</text>
<text x="511.2" y="1377.3" font-size="29" text-anchor="middle">T418D</text>
<text x="621.3" y="1377.3" font-size="29" text-anchor="middle">D422R</text>
<text x="727.8" y="1377.3" font-size="29" text-anchor="middle">Y242H</text>
<text x="838" y="1377.3" font-size="29" text-anchor="middle">C323A</text>
<text x="946" y="1377" font-size="30.6" text-anchor="middle" style="stroke-width:0.15px">–</text>
<text x="1059" y="1379.3" font-size="29" text-anchor="middle">WT</text>
<text x="1159" y="1379.3" font-size="29" text-anchor="middle">T418D</text>
<text x="1268.7" y="1379.3" font-size="29" text-anchor="middle">D422R</text>
<text x="1376" y="1379.3" font-size="29" text-anchor="middle">Y242H</text>
<text x="1489.6" y="1379.3" font-size="29" text-anchor="middle">C323A</text>
</svg>
</body></html>
